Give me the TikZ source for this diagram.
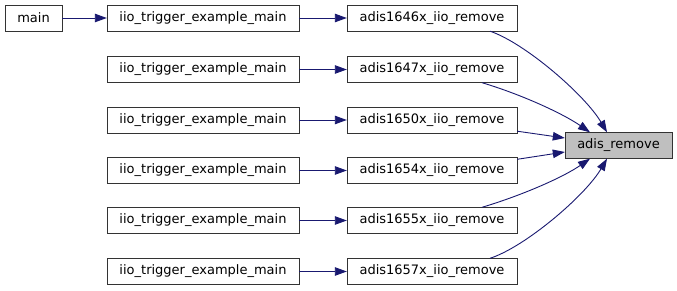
\documentclass[tikz,border=0pt]{standalone}
\usepackage{fontspec}
\setmainfont{DejaVu Sans}
\usetikzlibrary{arrows.meta,positioning}
\definecolor{edgeblue}{HTML}{191970}
\tikzset{
  fn/.style={draw=black!80,fill=white,minimum height=26pt,inner sep=0pt,font=\fontsize{13}{15}\selectfont},
  callerfn/.style={fn,minimum width=192pt},
  removefn/.style={fn,minimum width=170pt},
  rootfn/.style={fn,fill=black!25,minimum width=107pt},
  % call edges
  call/.style={edgeblue,line width=0.9pt,-{Triangle[length=12pt,width=8.5pt]}},
}

\begin{document}
\begin{tikzpicture}[x=1pt,y=-1pt]
\useasboundingbox (0,0) rectangle (677,291);

\node[rootfn] (root) at (618.5,145.5) {adis\_remove};

%% one row per device driver
\foreach \i/\y/\dev in {1/18/1646x, 2/69.5/1647x, 3/120/1650x, 4/170.5/1654x, 5/220.5/1655x, 6/271.5/1657x}{
  \node[removefn] (rm\i) at (432,\y) {adis\dev\_iio\_remove};
  \node[callerfn] (ex\i) at (203,\y) {iio\_trigger\_example\_main};
  \draw[call] (ex\i) -- (rm\i);
}

\node[fn,minimum width=57pt] (main) at (33.5,18) {main};
\draw[call] (main) -- (ex1);

%% fan-in to adis_remove
\draw[call] ([xshift=58pt]rm1.south) .. controls (525,43) and (585,95) .. ([xshift=-11.5pt]root.north);
\draw[call] ([xshift=50pt]rm2.south) .. controls (520,94) and (562,113) .. ([xshift=-28.5pt]root.north);
\draw[call] ([yshift=2pt]rm3.south east) -- ([yshift=7.5pt]root.west);
\draw[call] ([yshift=-2pt]rm4.north east) -- ([yshift=-6.5pt]root.west);
\draw[call] ([xshift=50pt]rm5.north) .. controls (520,196) and (562,178) .. ([xshift=-28.5pt]root.south);
\draw[call] ([xshift=58pt]rm6.north) .. controls (525,247) and (585,196) .. ([xshift=-11.5pt]root.south);
\end{tikzpicture}
\end{document}
